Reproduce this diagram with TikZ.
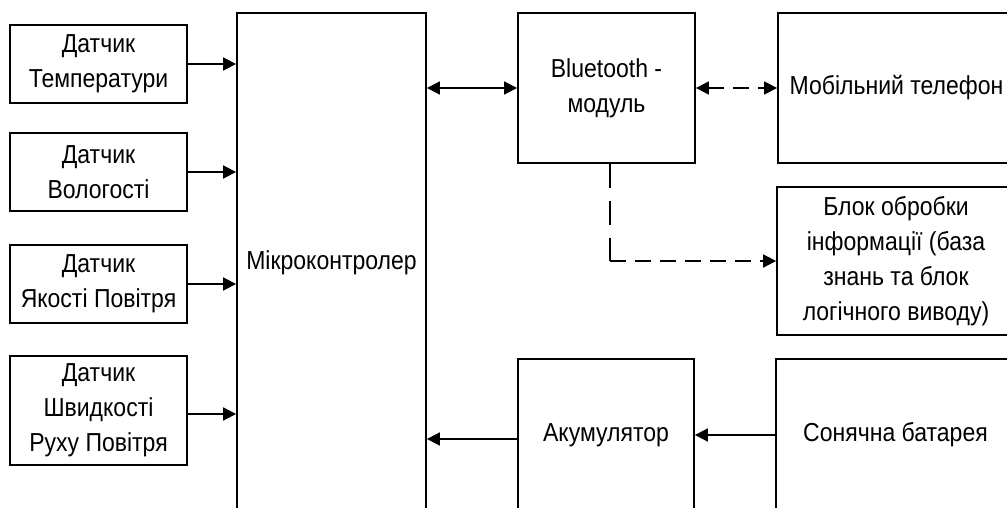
\documentclass[tikz,border=0pt]{standalone}
\usepackage{fontspec}
\setmainfont{Liberation Sans}[FakeStretch=0.885]
\usetikzlibrary{arrows.meta}

\tikzset{
  blk/.style={draw, line width=1.8pt, inner sep=0pt, align=center,
    font=\fontsize{26}{35}\selectfont},
  link/.style={line width=1.8pt, -{Triangle[length=13pt,width=13pt]}},
  twoway/.style={line width=1.8pt, {Triangle[length=13pt,width=13pt]}-{Triangle[length=13pt,width=13pt]}},
  dashh/.style={dash pattern=on 16pt off 9pt},
  dashv/.style={dash pattern=on 24pt off 13pt}
}

\begin{document}
\begin{tikzpicture}[x=1pt, y=-1pt]
  \useasboundingbox (0,0) rectangle (1007,508);
  \clip (0,0) rectangle (1007,508);

  % sensors
  \node[blk, minimum width=177pt, minimum height=78pt] (t1) at (98.5,64) {Датчик\\Температури};
  \node[blk, minimum width=177pt, minimum height=78pt] (t2) at (98.5,172) {Датчик\\Вологості};
  \node[blk, minimum width=177pt, minimum height=78pt] (t3) at (98.5,284) {Датчик\\Якості Повітря};
  \node[blk, minimum width=177pt, minimum height=109pt] (t4) at (98.5,410.5) {Датчик\\Швидкості\\Руху Повітря};

  % controller
  \node[blk, minimum width=189pt, minimum height=500pt] (mcu) at (331.5,263) {Мікроконтролер};

  % communication and power
  \node[blk, minimum width=177pt, minimum height=150pt] (bt) at (606.5,88) {Bluetooth -\\модуль};
  \node[blk, minimum width=237pt, minimum height=150pt] (mob) at (896.5,88) {Мобільний телефон};
  \node[blk, minimum width=238pt, minimum height=148pt] (info) at (896,261) {Блок обробки\\інформації (база\\знань та блок\\логічного виводу)};
  \node[blk, minimum width=176pt, minimum height=152pt] (akum) at (606,435) {Акумулятор};
  \node[blk, minimum width=239pt, minimum height=152pt] (sun) at (895.5,435) {Сонячна батарея};

  % sensor inputs
  \draw[link] (t1.east) -- (t1.east -| mcu.west);
  \draw[link] (t2.east) -- (t2.east -| mcu.west);
  \draw[link] (t3.east) -- (t3.east -| mcu.west);
  \draw[link] ([yshift=-3.5pt]t4.east) -- ([yshift=-3.5pt]t4.east -| mcu.west);

  % data links
  \draw[twoway] (bt.west) -- (bt.west -| mcu.east);
  \draw[twoway, dashh] (bt.east) -- (mob.west);
  \coordinate (turn) at ([xshift=3.5pt]bt.south |- info.west);
  \draw[line width=1.8pt, dashv] ([xshift=3.5pt]bt.south) -- (turn);
  \draw[link, dashh] (turn) -- (info.west);

  % power
  \draw[link] (sun.west) -- (akum.east);
  \draw[link] ([yshift=-4pt]akum.west) -- ([yshift=-4pt]akum.west -| mcu.east);
\end{tikzpicture}
\end{document}
